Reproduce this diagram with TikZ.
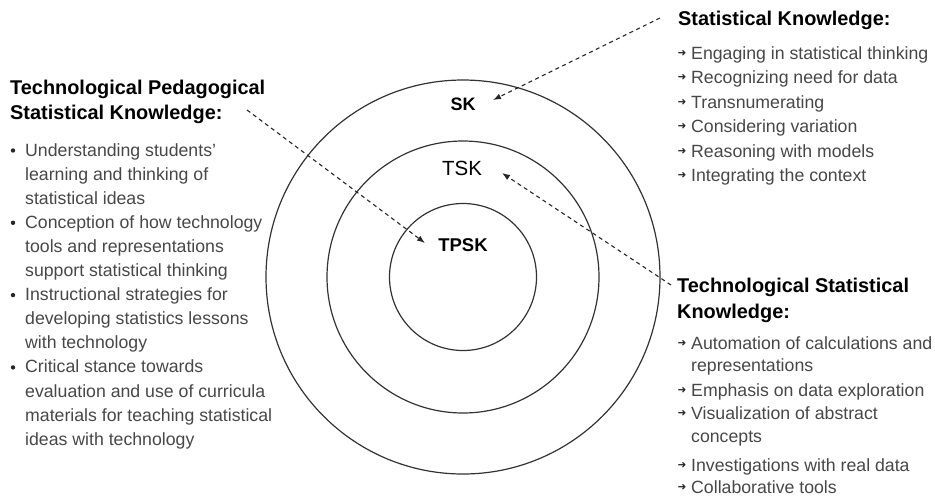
\documentclass[tikz,border=0pt]{standalone}
\usepackage{fontspec}
\setmainfont{Liberation Sans}
\newfontfamily\symfont{DejaVu Sans}
\usetikzlibrary{arrows.meta}

\tikzset{
  ring/.style={draw=black!80, line width=1.2pt},
  head/.style={font=\bfseries\fontsize{19.9}{22}\selectfont, anchor=base west, inner sep=0pt, text=black},
  body/.style={font=\fontsize{17.7}{20}\selectfont, anchor=base west, inner sep=0pt, text=black!72},
  dotbul/.style={circle, fill=black!85, inner sep=0pt, minimum size=4.4pt},
  arrbul/.style={font=\symfont\fontsize{10.5}{10.5}\selectfont, inner sep=0pt, text=black!85},
  lbl/.style={inner sep=1pt, text=black},
  dasharrow/.style={draw=black!85, line width=1.1pt, dash pattern=on 4pt off 3.5pt,
    -{Latex[length=8pt,width=6pt]}},
}

\begin{document}
\begin{tikzpicture}[x=1pt,y=-1pt]
\useasboundingbox (0,0) rectangle (935,499);

% concentric rings
\draw[ring] (463,277) circle[radius=197pt];
\draw[ring] (463,277) circle[radius=136pt];
\draw[ring] (463,277) circle[radius=73.5pt];

% ring labels
\node[lbl, font=\bfseries\fontsize{18}{20}\selectfont] (sk) at (463,104) {SK};
\node[lbl, font=\fontsize{20.5}{22}\selectfont] (tsk) at (462,168) {TSK};
\node[lbl, font=\bfseries\fontsize{18.5}{20}\selectfont] (tpsk) at (463,245) {TPSK};

% left block: technological pedagogical statistical knowledge
\node[head] (lh1) at (10,94) {Technological Pedagogical};
\node[head] (lh2) at (10,119) {Statistical Knowledge:};

\node[body] (l0)  at (25,156.0) {Understanding students'};
\node[body] (l1)  at (25,180.1) {learning and thinking of};
\node[body] (l2)  at (25,204.2) {statistical ideas};
\node[body] (l3)  at (25,228.3) {Conception of how technology};
\node[body] (l4)  at (25,252.4) {tools and representations};
\node[body] (l5)  at (25,276.5) {support statistical thinking};
\node[body] (l6)  at (25,300.6) {Instructional strategies for};
\node[body] (l7)  at (25,324.7) {developing statistics lessons};
\node[body] (l8)  at (25,348.8) {with technology};
\node[body] (l9)  at (25,372.9) {Critical stance towards};
\node[body] (l10) at (25,397.0) {evaluation and use of curricula};
\node[body] (l11) at (25,421.1) {materials for teaching statistical};
\node[body] (l12) at (25,445.2) {ideas with technology};

\node[dotbul] (lb0) at (13,150.5) {};
\node[dotbul] (lb3) at (13,222.8) {};
\node[dotbul] (lb6) at (13,295.1) {};
\node[dotbul] (lb9) at (13,367.4) {};

% upper right block: statistical knowledge
\node[head] (rh) at (678,25) {Statistical Knowledge:};
\node[body] (r0) at (691,59.0)  {Engaging in statistical thinking};
\node[body] (r1) at (691,83.5)  {Recognizing need for data};
\node[body] (r2) at (691,108.0) {Transnumerating};
\node[body] (r3) at (691,132.5) {Considering variation};
\node[body] (r4) at (691,157.0) {Reasoning with models};
\node[body] (r5) at (691,181.5) {Integrating the context};
\foreach \k/\yy in {0/53.5,1/78.0,2/102.5,3/127.0,4/151.5,5/176.0}
  \node[arrbul] (rb\k) at (682,\yy) {➜};

% lower right block: technological statistical knowledge
\node[head] (th1) at (677,292) {Technological Statistical};
\node[head] (th2) at (677,318) {Knowledge:};
\node[body] (t0) at (691,349) {Automation of calculations and};
\node[body] (t1) at (691,371) {representations};
\node[body] (t2) at (691,396) {Emphasis on data exploration};
\node[body] (t3) at (691,419) {Visualization of abstract};
\node[body] (t4) at (691,442) {concepts};
\node[body] (t5) at (691,471) {Investigations with real data};
\node[body] (t6) at (691,493) {Collaborative tools};
\foreach \k/\yy in {0/343.5,2/390.5,3/413.5,5/465.5,6/487.5}
  \node[arrbul] (tb\k) at (682,\yy) {➜};

% dashed pointers from each block to its ring
\coordinate (lp) at (247,110);
\coordinate (lq) at (425,243);
\coordinate (sp) at (660,18);
\coordinate (sq) at (493,100);
\coordinate (tp) at (671,285);
\coordinate (tq) at (502,173);
\draw[dasharrow] (lp) -- (lq);
\draw[dasharrow] (sp) -- (sq);
\draw[dasharrow] (tp) -- (tq);
\end{tikzpicture}
\end{document}
